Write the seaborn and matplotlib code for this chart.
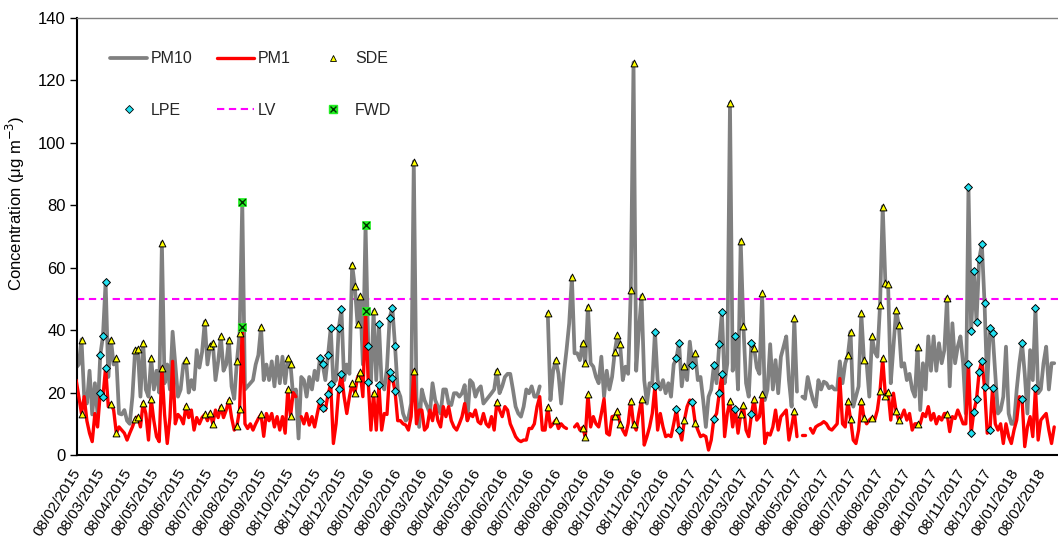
import numpy as np
import pandas as pd
import matplotlib
matplotlib.use("Agg")
import matplotlib.pyplot as plt
import matplotlib.dates as mdates
from matplotlib.lines import Line2D
import seaborn as sns

nan = np.nan

# Sampling grid of the series (one value every 73 hours)
first_sample = "2015-02-07"
sample_step = "73h"
axis_start = "2015-02-08"
last_tick = "2018-02-08"
axis_end = "2018-02-25 12:00"

pm10 = [
    28, 29, 37, 18.7, 16.5, 27, 13, 23, 13, 32,
    38, 55.5, 25, 37, 29, 31, 13.3, 13, 14.4, 11,
    10, 18.7, 33.5, 34, 18.7, 36, 21, 18.7, 31, 21,
    27, 20, 68, 23, 29, 21, 39.5, 29, 18.7, 21,
    29, 30.4, 20, 24, 21, 33.6, 28, 33, 42.7, 29,
    35, 36, 24, 30, 38, 27, 29, 37, 22, 18,
    30, 39, 81, 21, 22, 23, 24, 29, 32, 41,
    24, 29, 24, 30, 22, 31.5, 23, 31.5, 23, 31,
    29, 18.7, 21, 5.3, 25, 24, 18.7, 25, 21, 27,
    24, 31, 29, 24, 32, 40.6, 23, 24, 40.6, 46.8,
    24, 29, 26, 61, 54, 42, 51, 29, 73.7, 35,
    23, 46, 24, 42, 23, 21, 28, 44, 47.2, 35,
    21, 18.7, 13.3, 11, 12, 16.5, 94, 18.7, 9, 21,
    17.6, 15.5, 13.3, 23, 17.6, 15.5, 13.3, 21, 21, 16.5,
    16, 19.8, 19.8, 18.7, 19.8, 22.4, 11.2, 24, 23, 18.7,
    21, 22, 16.5, 17.6, 18.7, 19.8, 21, 27, 19.8, 22,
    25, 26, 26, 21, 15.5, 13.3, 12.3, 15.5, 21, 19.8,
    22, 18.7, 18.7, 22, nan, nan, 45.4, 17.6, 27, 30.4,
    26, 16.5, 26, 33.6, 42.2, 57, 32.6, 32.6, 30.4, 35.8,
    29.4, 47.5, 29.4, 28.3, 25, 23, 31.5, 18.7, 27, 21,
    25, 33, 38.4, 35.5, 24, 28.3, 26, 53, 125.7, 27,
    40, 51, 24, 16.5, 23, 23, 39.5, 24, 21, 24,
    19.8, 23, 18.7, 29, 31, 36, 22, 28.6, 24, 36.3,
    28.8, 32.6, 24, 25, 17.6, 9, 18.7, 21, 28.8, 23,
    35.6, 45.7, 23, 29.4, 112.7, 27, 38, 21, 68.7, 41.4,
    23, 18.7, 36, 34.4, 28, 26, 51.8, 17.6, 21, 35.5,
    21, 30.4, 19.8, 31.5, 34.7, 38, 24, 15.5, 43.8, 20.3,
    nan, 18.7, 18, 25, 21, 17.6, 15.5, 24, 21, 23.5,
    23, 21.4, 22, 21, 21, 30, 23, 29.4, 32, 39.5,
    15.5, 18.7, 22, 45.4, 30.4, 29.4, 18.7, 38, 33, 31.5,
    48, 79.6, 55, 54.7, 23, 34.7, 46.5, 41.6, 28.3, 29.4,
    24, 26, 21, 18.7, 34.7, 14.4, 29.4, 21, 38, 27,
    38, 27, 35.8, 29.4, 33.6, 50.4, 22, 42.2, 29.4, 34.7,
    38, 29.4, 13.3, 85.8, 39.7, 59, 42.7, 62.8, 67.5, 48.6,
    22, 40.6, 39.2, 26, 13.3, 14.4, 18.7, 34.7, 13.3, 10,
    10, 21, 29.4, 35.8, 26, 13.3, 33.6, 24, 47.2, 19.8,
    21, 29.4, 34.7, 21, 29.4, 29.4,
]

pm1 = [
    24, 18.7, 13.3, 18.7, 11, 7, 4.3, 13.3, 9, 20,
    18.7, 28, 15.5, 16.5, 14.4, 7, 9, 8, 7, 4.8,
    7, 9, 11.4, 12.3, 9, 16.8, 13.3, 4.8, 18, 11,
    5.9, 4.3, 28, 13, 3.7, 12, 30, 10, 13, 12,
    10, 15.7, 12, 14.4, 8, 12, 10, 12, 13, 11,
    13.5, 10, 14.4, 12, 15.5, 12, 14.4, 17.6, 12, 8,
    9.3, 14.6, 41, 10, 8.5, 10, 8, 10, 11.7, 13,
    6, 13.3, 11, 13.3, 9, 12.3, 8, 12.3, 7, 21,
    12.5, 20, 18.7, nan, 12.3, 10, 13.3, 9.6, 12.3, 9,
    13.3, 17.3, 15, 14.4, 19.4, 22.7, 3.7, 10, 21, 26,
    18.7, 13.3, 18.7, 23, 19.8, 24.8, 26.5, 18.7, 46, 23.5,
    8, 19.8, 8, 22.4, 8, 13.3, 13, 26.7, 24.8, 20.5,
    11, 11, 10, 9.6, 8, 12.3, 27, 10, 14.4, 14.4,
    8, 9, 14.4, 11, 16, 11, 9, 15.5, 12.3, 15.5,
    11, 9, 8, 10, 12.3, 16.5, 11, 13.3, 12.3, 14.4,
    10.7, 10, 13.3, 10, 9, 12.3, 8, 17, 14.4, 12.3,
    15.5, 14.4, 10, 8, 5.9, 4.8, 4.3, 4.8, 4.8, 8.5,
    8.5, 10, 15.5, 18.7, 8, 8, 15.3, 9, 10, 11.2,
    8.5, 10, 9, 8.5, nan, nan, 9, 10, 8, 8.8,
    5.9, 19.4, 9, 12.3, 10, 9, 13.3, 18, 7, 6.4,
    12.3, 12.5, 14.2, 10, 8, 6.4, 10, 17.4, 9.8, 8,
    13.3, 17.8, 3.2, 5.9, 9, 13.3, 22, 8, 13.3, 9,
    5.9, 6.4, 5.9, 10, 14.6, 8, 4.8, 11.2, 15.5, 17.6,
    16.9, 10.4, 8, 5.9, 6.4, 5.9, 1.6, 4.8, 11.7, 13.3,
    19.8, 26, 5.9, 13.3, 17.3, 9, 14.6, 7, 13, 16,
    8, 5.9, 13, 18, 11.2, 12.3, 19.4, 3.7, 7, 6.4,
    9, 14.4, 8, 12.3, 13.3, 14.4, 4.8, 9, 14.2, 5.9,
    nan, 6.4, 6.4, nan, 8.5, 7, 9, 9.6, 10, 10.7,
    10, 8.5, 8, 9, 10, 24.5, 10, 9, 17.3, 11.4,
    4.8, 3.7, 8, 17.4, 12, 10, 11.2, 12, 11.2, 14.4,
    20.6, 31, 19, 20.3, 11.2, 19.8, 14, 11.2, 12.3, 14.4,
    11.2, 13.3, 8, 10, 10, 10, 13.3, 12.3, 15.5, 11.2,
    13.3, 10, 12.3, 11.2, 13.3, 13.3, 7.5, 12.3, 11.7, 14.4,
    12.3, 10, 10, 29, 7, 13.9, 17.8, 26.7, 30.2, 21.7,
    7, 8, 21.4, 10, 8, 10, 3.7, 10, 5.9, 3.7,
    8, 11.2, 18.7, 18, 2.7, 9, 12.3, 5.9, 21.4, 4.8,
    11.2, 12.3, 13.3, 8, 3.7, 9,
]

# Sample positions flagged by event type
sde_idx = [2, 13, 15, 22, 23, 25, 28, 32, 41, 48, 50, 51, 54, 57, 60, 61, 69,
           79, 80, 103, 104, 105, 106, 111, 126, 157, 176, 179, 185, 189, 190,
           191, 201, 202, 203, 207, 208, 211, 227, 231, 244, 248, 249, 253, 256,
           268, 288, 289, 293, 294, 297, 300, 301, 302, 303, 306, 307, 314, 325]
lpe_idx = [9, 10, 11, 91, 92, 94, 95, 98, 99, 109, 113, 117, 118, 119, 216,
           224, 225, 230, 238, 240, 241, 246, 252, 333, 334, 335, 336, 337,
           338, 339, 341, 342, 353, 358]
fwd_idx = [62, 108]

limit_value = 50

sns.set_theme(style="white")
plt.rcParams["font.family"] = ["Liberation Sans", "DejaVu Sans"]

dates = pd.date_range(first_sample, periods=len(pm10), freq=sample_step)
df = pd.DataFrame({"date": dates, "PM10": pm10, "PM1": pm1})


def line_segments(col):
    d = df[["date", col]].copy()
    d["seg"] = d[col].isna().cumsum()
    return d.dropna()


def event_points(idx):
    ev = df.iloc[idx]
    pts = ev.melt(id_vars="date", value_vars=["PM10", "PM1"], value_name="value")
    return pts.dropna()


fig, ax = plt.subplots(figsize=(10.58, 5.43), dpi=100)
fig.subplots_adjust(left=0.0728, right=1.0, top=0.967, bottom=0.162)

ax.axhline(limit_value, color="#FF00FF", lw=1.5, dashes=(3.5, 2.2), zorder=1)

sns.lineplot(data=line_segments("PM10"), x="date", y="PM10", units="seg",
             estimator=None, color="#808080", lw=2.7, ax=ax, legend=False, zorder=2)
sns.lineplot(data=line_segments("PM1"), x="date", y="PM1", units="seg",
             estimator=None, color="#FF0000", lw=2.4, ax=ax, legend=False, zorder=3)

sns.scatterplot(data=event_points(sde_idx), x="date", y="value", marker="^",
                s=24, color="#FFFF00", edgecolor="black", linewidth=0.7,
                ax=ax, legend=False, zorder=5)
sns.scatterplot(data=event_points(lpe_idx), x="date", y="value", marker="D",
                s=16, color="#22E0F0", edgecolor="black", linewidth=0.7,
                ax=ax, legend=False, zorder=5)
fwd_pts = event_points(fwd_idx)
sns.scatterplot(data=fwd_pts, x="date", y="value", marker="s", s=34,
                color="#22EE22", edgecolor="#22EE22", linewidth=0.5,
                ax=ax, legend=False, zorder=6)
sns.scatterplot(data=fwd_pts, x="date", y="value", marker="x", s=24,
                color="#003300", linewidth=1.0, ax=ax, legend=False, zorder=7)

# Axes styling
ax.set_ylim(0, 140)
ax.set_yticks(np.arange(0, 141, 20))
ax.set_xlim(pd.Timestamp(axis_start), pd.Timestamp(axis_end))
month_ticks = pd.date_range(axis_start, last_tick, freq=pd.DateOffset(months=1))
ax.set_xticks(month_ticks)
ax.xaxis.set_major_formatter(mdates.DateFormatter("%d/%m/%Y"))
for lab in ax.get_xticklabels():
    lab.set_rotation(58)
    lab.set_ha("right")
    lab.set_va("center")
    lab.set_rotation_mode("anchor")
ax.tick_params(axis="x", length=0, pad=11, labelsize=11, colors="black")
ax.tick_params(axis="y", length=5, width=1, direction="out", pad=3,
               labelsize=12, colors="black", left=True)
ax.set_xlabel("")
ax.set_ylabel("Concentration (μg m$^{-3}$)", fontsize=12, color="black")
ax.yaxis.set_label_coords(-0.051, 0.575)
ax.spines["right"].set_visible(False)
ax.spines["top"].set_color("#808080")
ax.spines["top"].set_linewidth(1.0)
for side in ["left", "bottom"]:
    ax.spines[side].set_color("black")
    ax.spines[side].set_linewidth(1.5)

# Legend
h_pm10 = Line2D([], [], color="#808080", lw=2.7)
h_pm1 = Line2D([], [], color="#FF0000", lw=2.4)
h_sde = Line2D([], [], ls="none", marker="^", ms=5, mfc="#FFFF00", mec="black", mew=0.6)
h_lpe = Line2D([], [], ls="none", marker="D", ms=3.8, mfc="#22E0F0", mec="black", mew=0.6)
h_lv = Line2D([], [], color="#FF00FF", lw=1.5, dashes=(3.5, 2.2))
h_fwd_sq = Line2D([], [], ls="none", marker="s", ms=5.5, mfc="#22EE22", mec="#22EE22")
h_fwd_x = Line2D([], [], ls="none", marker="x", ms=4.5, mec="#003300", mew=1.0)
ax.legend([h_pm10, h_lpe, h_pm1, h_lv, h_sde, (h_fwd_sq, h_fwd_x)],
          ["PM10", "LPE", "PM1", "LV", "SDE", "FWD"],
          ncol=3, loc="upper left", bbox_to_anchor=(0.034, 0.924),
          frameon=False, fontsize=11.5, handlelength=2.3, handletextpad=0.25,
          columnspacing=1.5, labelspacing=2.3, borderpad=0, borderaxespad=0)

fig.savefig("out.png", dpi=100, facecolor="white")
